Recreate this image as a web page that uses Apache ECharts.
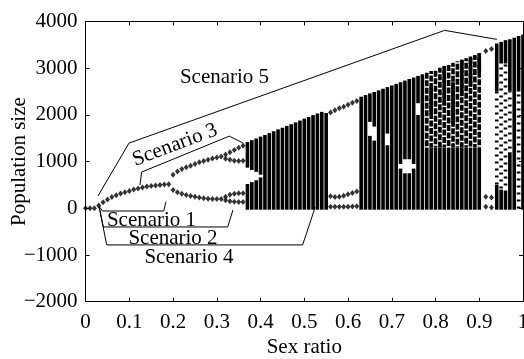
<!DOCTYPE html>
<html>
<head>
<meta charset="utf-8">
<script src="https://cdn.jsdelivr.net/npm/echarts@6/dist/echarts.min.js"></script>
<style>
  html, body { margin: 0; padding: 0; background: #fff; }
  #chart { width: 524px; height: 359px; }
</style>
</head>
<body>
<div id="chart"></div>
<script>
// stable / periodic branches: [sex ratio, population]
const branchPoints = [
  [0.00, 0], [0.01, 0], [0.02, 0], [0.03, 60], [0.04, 130], [0.05, 190], [0.06, 240],
  [0.07, 280], [0.08, 315], [0.09, 345], [0.10, 370], [0.11, 400], [0.12, 425],
  [0.13, 445], [0.14, 465], [0.15, 480], [0.16, 490], [0.17, 500], [0.18, 510], [0.19, 515],
  // period 2
  [0.20, 720], [0.21, 790], [0.22, 840], [0.23, 880], [0.24, 910], [0.25, 950],
  [0.26, 985], [0.27, 1015], [0.28, 1040], [0.29, 1065], [0.30, 1090], [0.31, 1110],
  [0.20, 390], [0.21, 345], [0.22, 310], [0.23, 285], [0.24, 265], [0.25, 245],
  [0.26, 230], [0.27, 215], [0.28, 205], [0.29, 200], [0.30, 198], [0.31, 200],
  // period 4
  [0.32, 1150], [0.33, 1200], [0.34, 1250], [0.35, 1295], [0.36, 1340],
  [0.32, 1060], [0.33, 1040], [0.34, 1020], [0.35, 1015], [0.36, 1020],
  [0.32, 250], [0.33, 290], [0.34, 310], [0.35, 320], [0.36, 320],
  [0.32, 170], [0.33, 150], [0.34, 140], [0.35, 135], [0.36, 135],
  // window near 0.6
  [0.56, 2050], [0.57, 2100], [0.58, 2140], [0.59, 2175], [0.60, 2220], [0.61, 2260], [0.62, 2300],
  [0.56, 260], [0.57, 240], [0.58, 245], [0.59, 270], [0.60, 300], [0.61, 330], [0.62, 360],
  [0.56, 35], [0.57, 35], [0.58, 35], [0.59, 35], [0.60, 35], [0.61, 40], [0.62, 45],
  // window near 0.92
  [0.915, 3370], [0.928, 3410],
  [0.915, 250], [0.928, 230],
  [0.915, 35], [0.928, 15]
];

// chaotic columns, solid: [sex ratio, low, high]
const denseBands = [
  [0.37, -30, 520], [0.37, 870, 1420],
  [0.38, -30, 560], [0.38, 820, 1460],
  [0.39, -30, 600], [0.39, 780, 1495],
  [0.40, -30, 660], [0.40, 720, 1535],
  [0.41, -30, 1570], [0.42, -30, 1610], [0.43, -30, 1650], [0.44, -30, 1690],
  [0.45, -30, 1725], [0.46, -30, 1765], [0.47, -30, 1800], [0.48, -30, 1840],
  [0.49, -30, 1880], [0.50, -30, 1920], [0.51, -30, 1955], [0.52, -30, 1995],
  [0.53, -30, 2030], [0.54, -30, 2065], [0.55, -30, 2040],
  [0.63, -30, 2390], [0.64, -30, 2425],
  [0.65, -30, 1550], [0.65, 1850, 2460],
  [0.66, -30, 1450], [0.66, 1750, 2490],
  [0.67, -30, 2525], [0.68, -30, 2560],
  [0.69, -30, 1350], [0.69, 1600, 2595],
  [0.70, -30, 2630], [0.71, -30, 2665],
  [0.72, -30, 850], [0.72, 950, 2700],
  [0.73, -30, 750], [0.73, 1050, 2735],
  [0.74, -30, 750], [0.74, 1050, 2770],
  [0.75, -30, 850], [0.75, 950, 2800],
  [0.76, -30, 2000], [0.76, 2250, 2835],
  [0.77, -30, 2870],
  [0.78, -30, 1300], [0.79, -30, 1300], [0.79, 2000, 2600],
  [0.80, -30, 1300], [0.81, -30, 1300], [0.82, -30, 1300], [0.82, 2200, 3045],
  [0.83, -30, 1300], [0.84, -30, 1300], [0.84, 1800, 2700],
  [0.85, -30, 1300], [0.86, -30, 1300], [0.86, 2400, 3180],
  [0.87, -30, 1300], [0.88, -30, 1300], [0.88, 2600, 3250],
  [0.89, -30, 1300], [0.90, -30, 1300], [0.90, 2900, 3320],
  [0.94, -30, 500], [0.94, 2500, 3530],
  [0.95, -30, 400], [0.95, 3100, 3565],
  [0.96, -30, 350], [0.96, 3100, 3600],
  [0.97, -30, 1200], [0.97, 2500, 3620],
  [0.98, -30, 3650],
  [0.99, 2500, 3690],
  [1.00, -30, 3720]
];

// chaotic columns, mottled (mostly filled): [sex ratio, low, high]
const mottledBands = [
  [0.78, 1300, 2905], [0.79, 1300, 2940], [0.80, 1300, 2975], [0.81, 1300, 3010],
  [0.82, 1300, 3045], [0.83, 1300, 3080], [0.84, 1300, 3115], [0.85, 1300, 3150],
  [0.86, 1300, 3180], [0.87, 1300, 3215], [0.88, 1300, 3250], [0.89, 1300, 3285],
  [0.90, 1300, 3320]
];

// chaotic columns, sparse dots: [sex ratio, low, high]
const sparseBands = [
  [0.94, 500, 2500], [0.95, 400, 3100], [0.96, 350, 3100],
  [0.97, 1200, 2500], [0.99, -30, 2500]
];

// callout brackets
const scenario1Line = [[0.0306, 49], [0.0386, -58], [0.1785, -58], [0.1838, 141]];
const scenario2Line = [[0.0306, 49], [0.0405, -400], [0.3248, -400], [0.3369, -36]];
const scenario4Line = [[0.0306, 49], [0.0482, -784], [0.4962, -784], [0.525, 28]];
const scenario3Line = [[0.1243, 498], [0.1282, 776], [0.3285, 1545], [0.3605, 1395]];
const scenario5Line = [[0.0283, 263], [0.0992, 1396], [0.8208, 3810], [0.9403, 3617]];

const FONT = '"Liberation Serif", "Times New Roman", serif';

const chart = echarts.init(document.getElementById('chart'));

function bandRenderer(kind) {
  return function (params, api) {
    const x = api.value(0);
    const top = api.coord([x, api.value(2)]);
    const bottom = api.coord([x, api.value(1)]);
    if (kind === 'dense') {
      return {
        type: 'rect',
        shape: { x: top[0] - 1.8, y: top[1], width: 3.6, height: bottom[1] - top[1] },
        style: { fill: '#000' },
      };
    }
    const dash = kind === 'mottled' ? [6, 1.5] : [2, 5];
    return {
      type: 'line',
      shape: { x1: top[0], y1: top[1], x2: bottom[0], y2: bottom[1] },
      style: {
        stroke: '#000',
        lineWidth: 3.6,
        lineDash: dash,
        lineDashOffset: (params.dataIndex * 3) % 8,
      },
    };
  };
}

function bandSeries(data, kind) {
  return {
    type: 'custom',
    renderItem: bandRenderer(kind),
    data: data,
    encode: { x: 0, y: [1, 2] },
    silent: true,
  };
}

function calloutSeries(points) {
  return {
    type: 'line',
    data: points,
    symbol: 'none',
    silent: true,
    z: 5,
    lineStyle: { color: '#000', width: 1 },
  };
}

function sceneText(text, x, y, rotation) {
  return {
    type: 'text',
    x: x,
    y: y,
    rotation: rotation || 0,
    z: 10,
    style: {
      text: text,
      font: '21px ' + FONT,
      fill: '#000',
      align: 'center',
      verticalAlign: 'middle',
      textAlign: 'center',
      textVerticalAlign: 'middle',
    },
  };
}

const axisCommon = {
  type: 'value',
  axisLine: { show: true, onZero: false, lineStyle: { color: '#000', width: 1 } },
  axisTick: { show: true, inside: true, length: 4, lineStyle: { color: '#000' } },
  splitLine: { show: false },
};

const option = {
  animation: false,
  backgroundColor: '#fff',
  grid: {
    left: 85.6, right: 1, top: 21.5, bottom: 57.3,
    containLabel: false,
    outerBoundsMode: 'none',
  },
  xAxis: [
    Object.assign({}, axisCommon, {
      min: 0, max: 1, interval: 0.1,
      position: 'bottom',
      name: 'Sex ratio',
      nameLocation: 'middle',
      nameGap: 35,
      nameMoveOverlap: false,
      nameTextStyle: { color: '#000', fontSize: 21, fontFamily: FONT },
      axisLabel: { color: '#000', fontSize: 21, fontFamily: FONT, margin: 10 },
    }),
    Object.assign({}, axisCommon, {
      min: 0, max: 1, interval: 0.1,
      position: 'top',
      axisLabel: { show: false },
    }),
  ],
  yAxis: [
    Object.assign({}, axisCommon, {
      min: -2000, max: 4000, interval: 1000,
      position: 'left',
      name: 'Population size',
      nameLocation: 'middle',
      nameGap: 56,
      nameMoveOverlap: false,
      nameTextStyle: { color: '#000', fontSize: 21, fontFamily: FONT },
      axisLabel: {
        color: '#000', fontSize: 21, fontFamily: FONT, margin: 8,
        formatter: (v) => String(v).replace('-', '\u2212'),
      },
    }),
    Object.assign({}, axisCommon, {
      min: -2000, max: 4000, interval: 1000,
      position: 'right',
      axisLabel: { show: false },
    }),
  ],
  series: [
    bandSeries(sparseBands, 'sparse'),
    bandSeries(mottledBands, 'mottled'),
    bandSeries(denseBands, 'dense'),
    {
      type: 'scatter',
      data: branchPoints,
      symbol: 'diamond',
      symbolSize: [5, 6],
      itemStyle: { color: '#000' },
      silent: true,
    },
    calloutSeries(scenario1Line),
    calloutSeries(scenario2Line),
    calloutSeries(scenario4Line),
    calloutSeries(scenario3Line),
    calloutSeries(scenario5Line),
  ],
  graphic: [
    sceneText('Scenario 1', 151.5, 220),
    sceneText('Scenario 2', 173, 238),
    sceneText('Scenario 4', 189, 257),
    sceneText('Scenario 5', 224.5, 77),
    sceneText('Scenario 3', 175, 145, 0.36),
  ],
};

chart.setOption(option);
</script>
</body>
</html>
